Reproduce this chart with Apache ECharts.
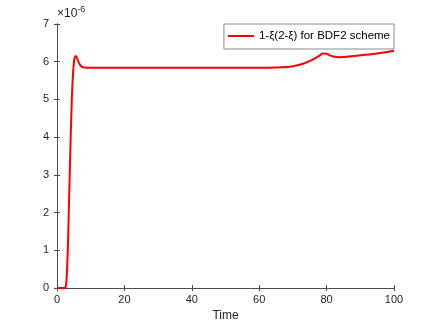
<!DOCTYPE html>
<html>
<head>
<meta charset="utf-8">
<script src="https://cdn.jsdelivr.net/npm/echarts@6/dist/echarts.min.js"></script>
<style>
  html, body { margin: 0; padding: 0; background: #fff; }
  #chart { width: 436px; height: 327px; }
</style>
</head>
<body>
<div id="chart"></div>
<script>
// time samples and 1-xi(2-xi) values, in units of 1e-6
const times = [0, 1, 2, 2.4, 2.8, 3.2, 3.6, 4.0, 4.4, 4.8, 5.2, 5.6, 6.0, 6.5, 7, 7.5, 8, 9, 10,
  20, 30, 40, 50, 60, 65, 68, 70, 72, 74, 76, 78, 79, 80, 81, 82, 83, 84, 86, 88, 90, 95, 100]
const values = [0, 0, 0, 0, 0.2, 1.0, 2.4, 3.8, 5.0, 5.75, 6.1, 6.15, 6.08, 5.97, 5.9, 5.86, 5.85, 5.84, 5.84,
  5.84, 5.84, 5.84, 5.84, 5.84, 5.845, 5.86, 5.88, 5.92, 5.98, 6.06, 6.17, 6.22, 6.21, 6.17, 6.14, 6.125, 6.12, 6.13, 6.15, 6.17, 6.22, 6.29]
const seriesName = '1-ξ(2-ξ) for BDF2 scheme'

const axisColor = '#4d4d4d'
const labelColor = '#262626'

const chart = echarts.init(document.getElementById('chart'), null, { renderer: 'canvas' })

const boxAxis = {
  axisLine: { show: true, lineStyle: { color: axisColor, width: 1 } },
  axisTick: { show: true, inside: true, length: 3, lineStyle: { color: axisColor } },
  axisLabel: { show: false },
  splitLine: { show: false }
}

chart.setOption({
  animation: false,
  grid: { left: 57, right: 42, top: 24, bottom: 36 },
  legend: {
    top: 24,
    right: 42,
    padding: [6, 4, 7, 4],
    itemGap: 4,
    itemWidth: 26,
    itemHeight: 2,
    borderColor: '#8c8c8c',
    borderWidth: 1,
    backgroundColor: '#fff',
    icon: 'rect',
    textStyle: { fontFamily: 'Liberation Sans', fontSize: 11.5, color: '#000' },
    data: [seriesName]
  },
  xAxis: [{
    type: 'value',
    min: 0,
    max: 100,
    interval: 20,
    name: 'Time',
    nameLocation: 'middle',
    nameGap: 20,
    nameTextStyle: { fontFamily: 'Liberation Sans', fontSize: 12, color: labelColor },
    axisLine: { show: true, lineStyle: { color: axisColor } },
    axisTick: { show: true, inside: true, length: 3, lineStyle: { color: axisColor } },
    axisLabel: { fontFamily: 'Liberation Sans', fontSize: 11, color: labelColor, margin: 6 },
    splitLine: { show: false }
  }, Object.assign({
    type: 'value', position: 'top', min: 0, max: 100, interval: 20
  }, boxAxis)],
  yAxis: [{
    type: 'value',
    min: 0,
    max: 7,
    interval: 1,
    name: '{a|×10}{b|-6}',
    nameLocation: 'end',
    nameGap: 1,
    nameTextStyle: {
      align: 'left',
      padding: [0, 0, 0, 0],
      rich: {
        a: { fontFamily: 'Liberation Sans', fontSize: 12, color: labelColor },
        b: { fontFamily: 'Liberation Sans', fontSize: 9, color: labelColor, verticalAlign: 'top', padding: [0, 0, 9, 0] }
      }
    },
    axisLine: { show: true, lineStyle: { color: axisColor } },
    axisTick: { show: true, inside: true, length: 3, lineStyle: { color: axisColor } },
    axisLabel: { fontFamily: 'Liberation Sans', fontSize: 11, color: labelColor, margin: 8 },
    splitLine: { show: false }
  }, Object.assign({
    type: 'value', position: 'right', min: 0, max: 7, interval: 1
  }, boxAxis)],
  series: [{
    name: seriesName,
    type: 'line',
    data: times.map((t, i) => [t, values[i]]),
    smooth: 0.3,
    showSymbol: false,
    lineStyle: { color: '#ff0000', width: 2 },
    itemStyle: { color: '#ff0000' }
  }]
})
</script>
</body>
</html>
